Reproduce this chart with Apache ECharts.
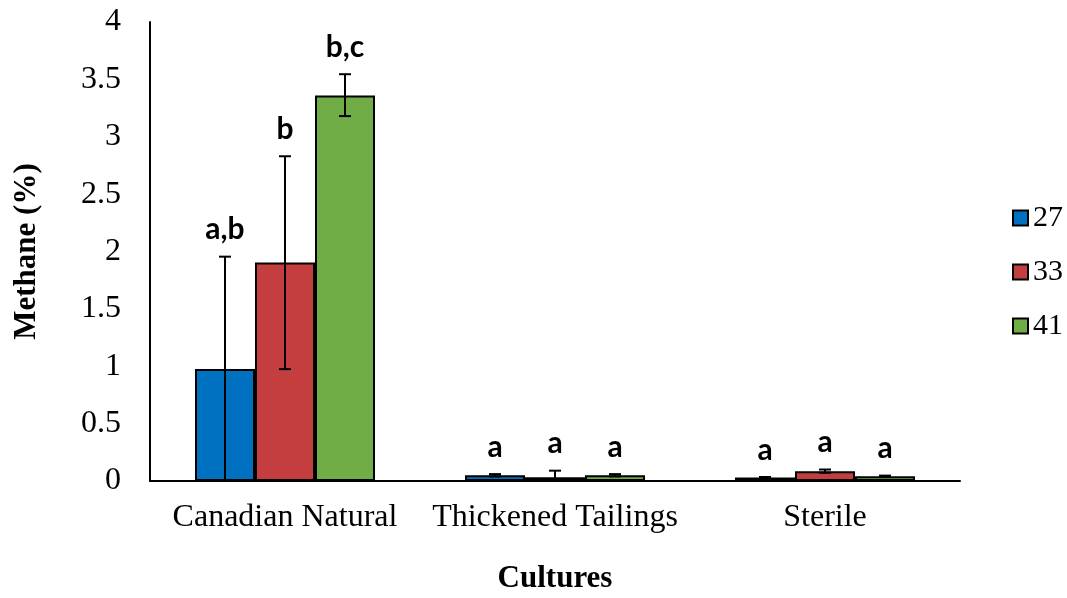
<!DOCTYPE html>
<html><head><meta charset="utf-8">
<script src="https://cdn.jsdelivr.net/npm/echarts@6/dist/echarts.min.js"></script>
<style>html,body{margin:0;padding:0;background:#fff}#c{width:1067px;height:598px}</style>
</head><body><div id="c"></div>
<script>
const categories = ['Canadian Natural', 'Thickened Tailings', 'Sterile'];
const seriesNames = ['27', '33', '41'];
const values27 = [0.975, 0.05, 0.03];
const values33 = [1.905, 0.032, 0.085];
const values41 = [3.36, 0.05, 0.042];
const errLow27 = [0.0, 0.04, 0.025];
const errHigh27 = [1.955, 0.06, 0.035];
const errLow33 = [0.975, 0.0, 0.072];
const errHigh33 = [2.83, 0.09, 0.1];
const errLow41 = [3.18, 0.04, 0.037];
const errHigh41 = [3.545, 0.06, 0.047];
const letters27 = ['a,b', 'a', 'a'];
const letters33 = ['b', 'a', 'a'];
const letters41 = ['b,c', 'a', 'a'];
const yTicks = [0, 0.5, 1, 1.5, 2, 2.5, 3, 3.5, 4];

const colors = ['#0070C0', '#C43E3F', '#70AD47'];
const values = [values27, values33, values41];
const lows = [errLow27, errLow33, errLow41];
const highs = [errHigh27, errHigh33, errHigh41];
const letters = [letters27, letters33, letters41];
const GAP = 1/3;

function makeErr(k) {
  return {
    type: 'custom',
    name: seriesNames[k] + ' err',
    z: 10,
    data: categories.map((c, i) => [i, lows[k][i], highs[k][i], letters[k][i]]),
    renderItem: function (params, api) {
      const band = api.size([1, 0])[0];
      const bw = band * (1 - GAP) / 3;
      const off = (k - 1) * bw;
      const lo = api.coord([api.value(0), api.value(1)]);
      const hi = api.coord([api.value(0), api.value(2)]);
      const x = lo[0] + off;
      const cap = 6;
      const st = { stroke: '#000', lineWidth: 2 };
      return {
        type: 'group',
        children: [
          { type: 'line', shape: { x1: x, y1: lo[1], x2: x, y2: hi[1] }, style: st },
          { type: 'line', shape: { x1: x - cap, y1: hi[1], x2: x + cap, y2: hi[1] }, style: st },
          { type: 'line', shape: { x1: x - cap, y1: lo[1], x2: x + cap, y2: lo[1] }, style: st },
          { type: 'text', x: x, y: hi[1] - 12, style: {
              text: api.value(3), fill: '#000', font: 'bold 30px Lato',
              textAlign: 'center', textVerticalAlign: 'bottom' } }
        ]
      };
    },
    encode: { x: 0, y: [1, 2] },
    silent: true,
    tooltip: { show: false }
  };
}

const series = [];
for (let k = 0; k < 3; k++) {
  series.push({
    type: 'bar',
    name: seriesNames[k],
    data: values[k],
    barGap: '0%',
    barCategoryGap: (GAP * 100).toFixed(2) + '%',
    itemStyle: { color: colors[k], borderColor: '#000', borderWidth: 2 }
  });
}
for (let k = 0; k < 3; k++) series.push(makeErr(k));

const chart = echarts.init(document.getElementById('c'));
chart.setOption({
  animation: false,
  backgroundColor: '#fff',
  grid: { left: 150, right: 107, top: 22, bottom: 117, containLabel: false, outerBoundsMode: 'none' },
  legend: {
    data: seriesNames,
    orient: 'vertical',
    left: 1007,
    top: 198,
    itemWidth: 15,
    itemHeight: 15,
    itemGap: 24,
    icon: 'rect',
    textStyle: { fontFamily: 'Liberation Serif', fontSize: 30, color: '#000', padding: [0, 0, 0, 0] }
  },
  xAxis: {
    type: 'category',
    data: categories,
    axisLine: { lineStyle: { color: '#000', width: 2 } },
    axisTick: { show: false },
    axisLabel: { fontFamily: 'Liberation Serif', fontSize: 32, color: '#000', margin: 21, interval: 0, hideOverlap: false },
    name: 'Cultures',
    nameLocation: 'middle',
    nameGap: 82,
    nameTextStyle: { fontFamily: 'Liberation Serif', fontSize: 31, fontWeight: 'bold', color: '#000' }
  },
  yAxis: {
    type: 'value',
    min: yTicks[0],
    max: yTicks[yTicks.length - 1],
    interval: 0.5,
    axisLine: { show: true, lineStyle: { color: '#000', width: 2 } },
    axisTick: { show: false },
    splitLine: { show: false },
    axisLabel: { fontFamily: 'Liberation Serif', fontSize: 32, color: '#000', margin: 29 },
    name: 'Methane (%)',
    nameLocation: 'middle',
    nameGap: 108,
    nameTextStyle: { fontFamily: 'Liberation Serif', fontSize: 31, fontWeight: 'bold', color: '#000' }
  },
  series: series
});
</script>
</body></html>
